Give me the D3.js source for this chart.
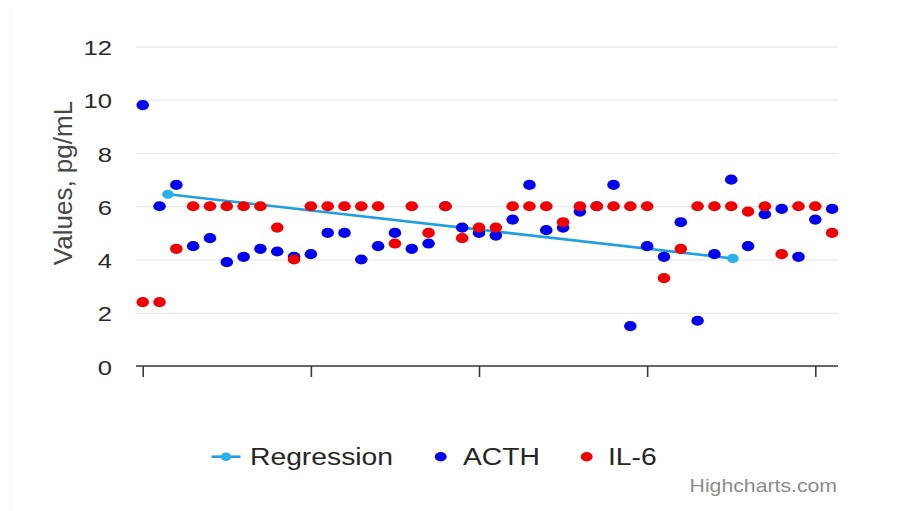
<!DOCTYPE html>
<html>
<head>
<meta charset="utf-8">
<script src="https://cdn.jsdelivr.net/npm/d3@7/dist/d3.min.js"></script>
<style>
  html, body { margin: 0; padding: 0; background: #fff; }
  svg { display: block; }
  text { font-family: "Liberation Sans", Arial, Helvetica, sans-serif; }
</style>
</head>
<body>
<svg id="chart" width="921" height="511"></svg>
<script>
// ---- Data ----
const acth = [9.8, 6.0, 6.8, 4.5, 4.8, 3.9, 4.1, 4.4, 4.3, 4.1, 4.2, 5.0, 5.0, 4.0, 4.5, 5.0, 4.4, 4.6, 6.0, 5.2,
              5.0, 4.9, 5.5, 6.8, 5.1, 5.2, 5.8, 6.0, 6.8, 1.5, 4.5, 4.1, 5.4, 1.7, 4.2, 7.0, 4.5, 5.7, 5.9, 4.1,
              5.5, 5.9];
const il6  = [2.4, 2.4, 4.4, 6.0, 6.0, 6.0, 6.0, 6.0, 5.2, 4.0, 6.0, 6.0, 6.0, 6.0, 6.0, 4.6, 6.0, 5.0, 6.0, 4.8,
              5.2, 5.2, 6.0, 6.0, 6.0, 5.4, 6.0, 6.0, 6.0, 6.0, 6.0, 3.3, 4.4, 6.0, 6.0, 6.0, 5.8, 6.0, 4.2, 6.0,
              6.0, 5.0];
const regressionX = [1.5, 35.1];
const regressionY = [6.45, 4.04];
const yTicks = [0, 2, 4, 6, 8, 10, 12];
const xTicks = [0, 10, 20, 30, 40];
const seriesNames = ["Regression", "ACTH", "IL-6"];
const yAxisTitle = "Values, pg/mL";
const creditText = "Highcharts.com";

// ---- Layout ----
const svg = d3.select("#chart");
const plot = { left: 136, right: 838, top: 46.5, bottom: 366 };
const SX = 1.22; // horizontal stretch of the original image
const colors = { reg: "#1f9fe2", regMarker: "#29b0ee", acth: "#0000f0", il6: "#f00000" };

const x = d3.scaleLinear().domain([-0.4, 41.35]).range([plot.left, plot.right]);
const y = d3.scaleLinear().domain([0, 12]).range([plot.bottom, plot.top]);

// faint frame edge
svg.append("line").attr("x1", 11).attr("x2", 11).attr("y1", 10).attr("y2", 511)
  .attr("stroke", "#f6f6f6").attr("stroke-width", 1);

// Y gridlines + labels
const yAxis = d3.axisLeft(y).tickValues(yTicks).tickSize(-(plot.right - plot.left)).tickFormat(d3.format("d"));
const gy = svg.append("g").attr("transform", `translate(${plot.left},0)`).call(yAxis);
gy.select(".domain").remove();
gy.selectAll(".tick line").attr("stroke", "#e3e3e3").attr("stroke-width", 1);
gy.selectAll(".tick text")
  .attr("x", 0).attr("dy", null)
  .attr("transform", `translate(${112 - plot.left},8) scale(${SX},1)`)
  .attr("text-anchor", "end")
  .attr("fill", "#2a2a2a")
  .style("font-size", "21px");

// X axis
const xAxis = d3.axisBottom(x).tickValues(xTicks).tickSize(11).tickFormat("");
const gx = svg.append("g").attr("transform", `translate(0,${plot.bottom})`).call(xAxis);
gx.select(".domain").attr("d", `M${plot.left},0H${plot.right}`).attr("stroke", "#3a3a3a").attr("stroke-width", 1.6);
gx.selectAll(".tick line").attr("stroke", "#3a3a3a").attr("stroke-width", 1.6);

// Y axis title
svg.append("text")
  .attr("transform", `translate(72,183) rotate(-90)`)
  .attr("text-anchor", "middle")
  .attr("fill", "#484848")
  .style("font-size", "26px")
  .text(yAxisTitle);

// Regression line
const line = d3.line().x(d => x(d[0])).y(d => y(d[1]));
const regData = regressionX.map((v, i) => [v, regressionY[i]]);
svg.append("path").datum(regData).attr("d", line)
  .attr("fill", "none").attr("stroke", colors.reg).attr("stroke-width", 2.6);

// ACTH points
svg.append("g").selectAll("ellipse").data(acth).join("ellipse")
  .attr("cx", (d, i) => x(i)).attr("cy", d => y(d))
  .attr("rx", 6.3).attr("ry", 5.1).attr("fill", colors.acth);

// IL-6 points
svg.append("g").selectAll("ellipse").data(il6).join("ellipse")
  .attr("cx", (d, i) => x(i)).attr("cy", d => y(d))
  .attr("rx", 6.3).attr("ry", 5.1).attr("fill", colors.il6);

// Regression markers
svg.append("g").selectAll("ellipse").data(regData).join("ellipse")
  .attr("cx", d => x(d[0])).attr("cy", d => y(d[1]))
  .attr("rx", 5.8).attr("ry", 4.6).attr("fill", colors.regMarker);

// Legend
const legY = 456.7;
const leg = svg.append("g");
leg.append("line").attr("x1", 211.5).attr("x2", 240.5).attr("y1", legY).attr("y2", legY)
  .attr("stroke", colors.reg).attr("stroke-width", 2.6);
leg.append("ellipse").attr("cx", 226).attr("cy", legY).attr("rx", 5.2).attr("ry", 4.3).attr("fill", colors.regMarker);
leg.append("ellipse").attr("cx", 440.7).attr("cy", legY).attr("rx", 6).attr("ry", 4.7).attr("fill", colors.acth);
leg.append("ellipse").attr("cx", 586.7).attr("cy", legY).attr("rx", 6).attr("ry", 4.7).attr("fill", colors.il6);
const legTextX = [250, 463, 608];
seriesNames.forEach((name, i) => {
  leg.append("text")
    .attr("transform", `translate(${legTextX[i]},465) scale(1.23,1)`)
    .attr("fill", "#262626")
    .style("font-size", "23px")
    .text(name);
});

// Credits
svg.append("text")
  .attr("transform", `translate(837,491.5) scale(1.18,1)`)
  .attr("text-anchor", "end")
  .attr("fill", "#8c8c8c")
  .style("font-size", "18px")
  .text(creditText);
</script>
</body>
</html>
